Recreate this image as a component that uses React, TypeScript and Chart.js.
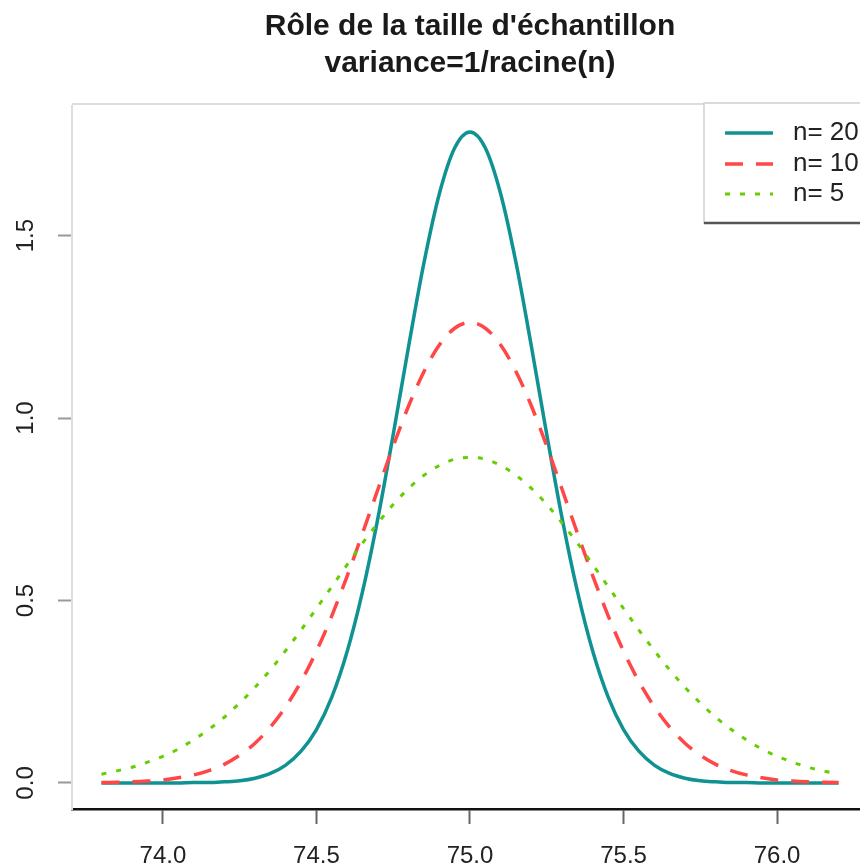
import React, { useEffect, useRef } from "react";
import { Chart, registerables } from "chart.js";

Chart.register(...registerables);

const TITLE_LINES = ["Rôle de la taille d'échantillon", "variance=1/racine(n)"];
const SERIES_LABELS = ["n= 20", "n= 10", "n= 5"];
const SERIES_COLORS = ["#109292", "#FF4747", "#66CD00"];
const X_TICKS = [74.0, 74.5, 75.0, 75.5, 76.0];
const Y_TICKS = [0, 0.5, 1.0, 1.5];

const X_VALUES = [
  73.8, 73.85, 73.9, 73.95, 74.0, 74.05, 74.1, 74.15, 74.2, 74.25, 74.3, 74.35, 74.4, 74.45, 74.5,
  74.55, 74.6, 74.65, 74.7, 74.75, 74.8, 74.85, 74.9, 74.95, 75.0, 75.05, 75.1, 75.15, 75.2, 75.25,
  75.3, 75.35, 75.4, 75.45, 75.5, 75.55, 75.6, 75.65, 75.7, 75.75, 75.8, 75.85, 75.9, 75.95, 76.0,
  76.05, 76.1, 76.15, 76.2,
];

const N20 = [
  0, 0, 0, 0, 0, 0, 0.001, 0.001, 0.003, 0.006, 0.013, 0.026, 0.049, 0.087, 0.146, 0.235, 0.36,
  0.524, 0.725, 0.955, 1.196, 1.425, 1.614, 1.74, 1.784, 1.74, 1.614, 1.425, 1.196, 0.955, 0.725,
  0.524, 0.36, 0.235, 0.146, 0.087, 0.049, 0.026, 0.013, 0.006, 0.003, 0.001, 0.001, 0, 0, 0, 0, 0, 0,
];

const N10 = [
  0.001, 0.002, 0.003, 0.005, 0.008, 0.014, 0.022, 0.034, 0.051, 0.076, 0.109, 0.153, 0.209, 0.278,
  0.361, 0.458, 0.567, 0.684, 0.804, 0.923, 1.033, 1.127, 1.2, 1.246, 1.262, 1.246, 1.2, 1.127, 1.033,
  0.923, 0.804, 0.684, 0.567, 0.458, 0.361, 0.278, 0.209, 0.153, 0.109, 0.076, 0.051, 0.034, 0.022,
  0.014, 0.008, 0.005, 0.003, 0.002, 0.001,
];

const N5 = [
  0.024, 0.033, 0.043, 0.057, 0.073, 0.093, 0.118, 0.147, 0.18, 0.219, 0.262, 0.31, 0.363, 0.419,
  0.478, 0.538, 0.598, 0.657, 0.712, 0.763, 0.807, 0.843, 0.87, 0.887, 0.892, 0.887, 0.87, 0.843,
  0.807, 0.763, 0.712, 0.657, 0.598, 0.538, 0.478, 0.419, 0.363, 0.31, 0.262, 0.219, 0.18, 0.147,
  0.118, 0.093, 0.073, 0.057, 0.043, 0.033, 0.024,
];

const FONT = '"Liberation Sans", Arial, Helvetica, sans-serif';
const DASHES = [[], [18, 13], [5, 10]];
const WIDTHS = [3.5, 3.5, 3];

export default function App() {
  const ref = useRef<HTMLCanvasElement | null>(null);

  useEffect(() => {
    document.body.style.margin = "0";
    const canvas = ref.current;
    if (!canvas) return;

    const series = [N20, N10, N5];

    const decor = {
      id: "decor",
      afterDraw(chart: any) {
        const ctx = chart.ctx as CanvasRenderingContext2D;
        const area = chart.chartArea;
        const xs = chart.scales.x;
        const ys = chart.scales.y;
        ctx.save();

        // top frame line
        ctx.strokeStyle = "#dddddd";
        ctx.lineWidth = 2;
        ctx.beginPath();
        ctx.moveTo(area.left, area.top - 2);
        ctx.lineTo(area.right, area.top - 2);
        ctx.stroke();

        // title
        const cx = xs.getPixelForValue(75.0);
        ctx.fillStyle = "#1a1a1a";
        ctx.textAlign = "center";
        ctx.textBaseline = "alphabetic";
        ctx.font = `bold 30px ${FONT}`;
        ctx.fillText(TITLE_LINES[0], cx, 35);
        ctx.fillText(TITLE_LINES[1], cx, 72);

        // y tick labels, rotated
        ctx.font = `24px ${FONT}`;
        ctx.fillStyle = "#222";
        ctx.textBaseline = "middle";
        for (const v of Y_TICKS) {
          const py = ys.getPixelForValue(v);
          ctx.save();
          ctx.translate(26, py);
          ctx.rotate(-Math.PI / 2);
          ctx.textAlign = "center";
          ctx.fillText(v.toFixed(1), 0, 0);
          ctx.restore();
        }

        // legend
        const lx = 704, ly = 103, lw = 220, lh = 120;
        ctx.fillStyle = "#ffffff";
        ctx.fillRect(lx, ly, lw, lh);
        ctx.strokeStyle = "#d0d0d0";
        ctx.lineWidth = 1.5;
        ctx.strokeRect(lx, ly, lw, lh);
        ctx.strokeStyle = "#555";
        ctx.lineWidth = 2.5;
        ctx.beginPath();
        ctx.moveTo(lx, ly + lh);
        ctx.lineTo(lx + lw, ly + lh);
        ctx.stroke();

        const rows = [133, 164, 194];
        chart.data.datasets.forEach((ds: any, i: number) => {
          const y = rows[i];
          ctx.strokeStyle = ds.borderColor;
          ctx.lineWidth = ds.borderWidth;
          ctx.setLineDash(ds.borderDash || []);
          ctx.beginPath();
          ctx.moveTo(725, y);
          ctx.lineTo(773, y);
          ctx.stroke();
          ctx.setLineDash([]);
          ctx.fillStyle = "#222";
          ctx.textAlign = "left";
          ctx.textBaseline = "middle";
          ctx.font = `26px ${FONT}`;
          ctx.fillText(ds.label, 793, y);
        });

        ctx.restore();
      },
    };

    const chart = new Chart(canvas, {
      type: "line",
      data: {
        datasets: series.map((vals, i) => ({
          label: SERIES_LABELS[i],
          data: X_VALUES.map((x, j) => ({ x, y: vals[j] })),
          borderColor: SERIES_COLORS[i],
          borderWidth: WIDTHS[i],
          borderDash: DASHES[i],
          pointRadius: 0,
          fill: false,
          cubicInterpolationMode: "monotone",
          order: 3 - i,
        })),
      },
      options: {
        responsive: false,
        animation: false,
        layout: { padding: { top: 106, left: 0, right: 0, bottom: 0 } },
        plugins: {
          legend: { display: false },
          title: { display: false },
          tooltip: { enabled: false },
        },
        scales: {
          x: {
            type: "linear",
            min: 73.704,
            max: 76.27,
            afterBuildTicks: (s: any) => {
              s.ticks = X_TICKS.map((v) => ({ value: v }));
            },
            afterFit: (s: any) => {
              s.height = 59;
            },
            ticks: {
              autoSkip: false,
              maxRotation: 0,
              minRotation: 0,
              padding: 18,
              color: "#222",
              font: { family: FONT, size: 24 },
              callback: (v: any) => Number(v).toFixed(1),
            },
            grid: {
              drawOnChartArea: false,
              drawTicks: true,
              tickLength: 15,
              tickColor: "#666",
              tickWidth: 2,
            },
            border: { display: true, color: "#111", width: 2.5 },
          },
          y: {
            type: "linear",
            min: -0.0714,
            max: 1.855,
            afterBuildTicks: (s: any) => {
              s.ticks = Y_TICKS.map((v) => ({ value: v }));
            },
            afterFit: (s: any) => {
              s.width = 72;
            },
            ticks: { display: false },
            grid: {
              drawOnChartArea: false,
              drawTicks: true,
              tickLength: 14,
              tickColor: "#999",
              tickWidth: 2,
            },
            border: { display: true, color: "#dddddd", width: 2 },
          },
        },
      },
      plugins: [decor],
    } as any);

    return () => chart.destroy();
  }, []);

  return (
    <div style={{ width: 860, height: 868, position: "relative", background: "#fff" }}>
      <canvas ref={ref} width={860} height={868} style={{ display: "block" }} />
    </div>
  );
}
